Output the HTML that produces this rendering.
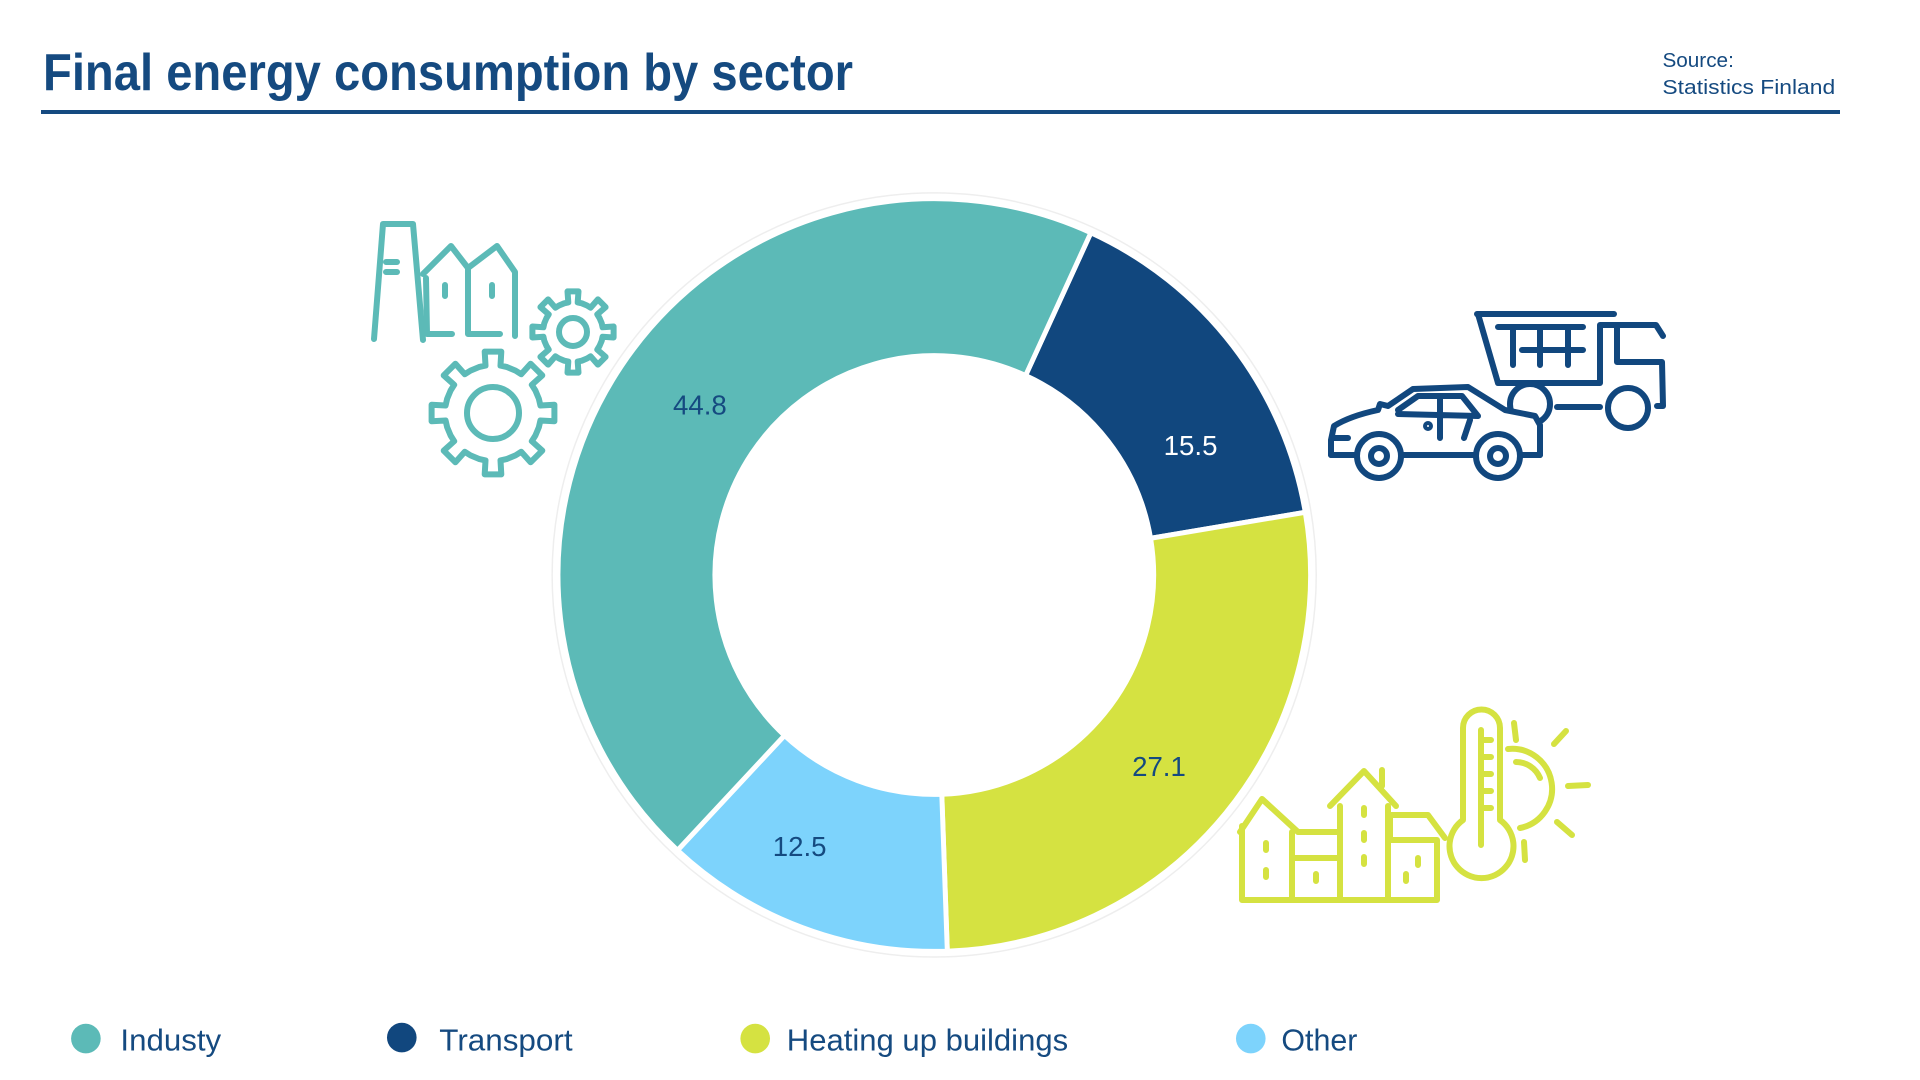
<!DOCTYPE html>
<html><head><meta charset="utf-8"><style>
html,body{margin:0;padding:0;background:#fff;}
svg{display:block;}
text{font-family:"Liberation Sans",Arial,sans-serif;}
</style></head><body>
<svg id="s" width="1920" height="1080" viewBox="0 0 1920 1080" xmlns="http://www.w3.org/2000/svg">
<rect width="1920" height="1080" fill="#fff"/>
<text x="43" y="90" font-size="52" font-weight="bold" fill="#154a80" textLength="810" lengthAdjust="spacingAndGlyphs">Final energy consumption by sector</text>
<rect x="41" y="110" width="1799" height="4" fill="#154a80"/>
<g transform="scale(0.9872)">
<text x="1684" y="68" font-size="21" fill="#154a80">Source:</text>
<text x="1684" y="95" font-size="21" fill="#154a80" textLength="175" lengthAdjust="spacingAndGlyphs">Statistics Finland</text>

<circle cx="946.3" cy="582.4" r="387" fill="none" stroke="#eeeeee" stroke-width="1.5"/>
<g stroke="#fff" stroke-width="5" stroke-linejoin="miter">
<path fill="#11477e" d="M1105.0,235.8 A381.3,381.3 0 0 1 1322.2,518.9 L1165.5,545.3 A222.3,222.3 0 0 0 1038.9,380.4 Z"/>
<path fill="#d5e241" d="M1322.2,518.9 A381.3,381.3 0 0 1 959.6,963.5 L954.0,804.6 A222.3,222.3 0 0 0 1165.5,545.3 Z"/>
<path fill="#7dd3fc" d="M959.6,963.5 A381.3,381.3 0 0 1 686.3,861.3 L794.7,745.0 A222.3,222.3 0 0 0 954.0,804.6 Z"/>
<path fill="#5cbab7" d="M686.3,861.3 A381.3,381.3 0 0 1 1105.0,235.8 L1038.9,380.4 A222.3,222.3 0 0 0 794.7,745.0 Z"/>
</g>
<g font-size="28" text-anchor="middle">
<text x="709" y="420" fill="#154a80">44.8</text>
<text x="1206" y="461" fill="#ffffff">15.5</text>
<text x="1174" y="786" fill="#154a80">27.1</text>
<text x="810" y="867" fill="#154a80">12.5</text>
</g>
<g font-size="31">
<circle cx="87" cy="1052" r="15" fill="#5cbab7"/><text x="122" y="1064" fill="#154a80" textLength="102" lengthAdjust="spacingAndGlyphs">Industy</text>
<circle cx="407" cy="1051" r="15" fill="#11477e"/><text x="445" y="1064" fill="#154a80" textLength="135" lengthAdjust="spacingAndGlyphs">Transport</text>
<circle cx="765" cy="1052" r="15" fill="#d5e241"/><text x="797" y="1064" fill="#154a80" textLength="285" lengthAdjust="spacingAndGlyphs">Heating up buildings</text>
<circle cx="1267" cy="1052" r="15" fill="#7dd3fc"/><text x="1298" y="1064" fill="#154a80" textLength="77" lengthAdjust="spacingAndGlyphs">Other</text>
</g>
</g>

<!-- industry icon -->
<g fill="none" stroke="#5cbab7" stroke-width="6" stroke-linecap="round" stroke-linejoin="round">
<path d="M374,339 L383,224 L413,224 L423,340"/>
<path d="M386,262 L397,262 M386,272 L397,272"/>
<path d="M423,274 L451,246 L468,268 L497,246 L515,272 L515,336"/>
<path d="M426,278 L427,334 L452,334 M468,268 L468,334 L500,334"/>
<path d="M445,285 L445,296 M492,285 L492,296"/>
<path id="g1"/><path id="g2"/>
<circle cx="573" cy="332" r="14"/>
<circle cx="493" cy="413" r="26"/>
</g>

<!-- transport icon -->
<g fill="none" stroke="#11477e" stroke-width="6" stroke-linecap="round" stroke-linejoin="round">
<path d="M1477,314 L1614,314"/>
<path d="M1478,314 L1498,383 L1600,383 L1600,325 L1656,325 L1663,336"/>
<path d="M1617,327 L1617,362 L1662,362 L1663,406 L1657,406"/>
<path d="M1557,407 L1600,407"/>
<path d="M1498,327 L1583,327 M1522,350 L1583,350 M1513,327 L1513,365 M1540,327 L1540,365 M1568,327 L1568,365"/>
<circle cx="1628" cy="408" r="20"/>
<circle cx="1530" cy="404" r="20"/>
<path fill="#fff" d="M1331,440 L1334,426 Q1350,416 1378,410 L1380,404 L1388,406 L1413,389 L1468,387 L1505,410 L1535,416 L1540,425 L1540,455 L1331,455 Z"/>
<path d="M1331,455 L1540,455 M1398,410 L1418,396 L1462,396 L1478,416 M1398,414 L1478,416 M1440,396 L1440,438 M1470,420 L1464,438 M1334,438 L1348,438"/>
<circle cx="1379" cy="456" r="22" fill="#fff"/><circle cx="1379" cy="456" r="8"/>
<circle cx="1498" cy="456" r="22" fill="#fff"/><circle cx="1498" cy="456" r="8"/>
<circle cx="1428" cy="426" r="2"/>
</g>

<!-- heating icon -->
<g fill="none" stroke="#d5e241" stroke-width="6" stroke-linecap="round" stroke-linejoin="round">
<path d="M1240,832 L1262,799 L1298,832 L1340,832 M1242,826 L1242,900 L1437,900 L1437,840 L1390,840 L1390,815 L1428,815 L1445,838"/>
<path d="M1292,832 L1292,900 M1292,858 L1340,858 M1330,806 L1364,771 L1396,806 M1340,806 L1340,900 M1388,806 L1388,900 M1382,770 L1382,786"/>
<path d="M1266,843 L1266,850 M1266,870 L1266,877 M1316,874 L1316,881 M1364,808 L1364,815 M1364,833 L1364,840 M1364,857 L1364,864 M1406,874 L1406,881 M1418,858 L1418,865"/>
<path d="M1463,820 L1463,728 A18,18 0 0 1 1500,728 L1500,820 A32,32 0 1 1 1463,820 Z"/>
<path d="M1481,730 L1481,845 M1481,740 L1491,740 M1481,757 L1491,757 M1481,774 L1491,774 M1481,791 L1491,791 M1481,808 L1491,808"/>
<path d="M1508,749 A40,40 0 0 1 1520,828 M1516,762 A26,26 0 0 1 1540,778"/>
<path d="M1514,723 L1516,740 M1554,744 L1566,731 M1568,786 L1588,785 M1557,822 L1572,835 M1524,842 L1525,860"/>
</g>
</svg>
<script>
function gear(cx,cy,ri,ro,n){
  var d="",step=2*Math.PI/n;
  for(var i=0;i<n;i++){
    var a=i*step;
    var pts=[[a-step*0.5+step*0.12,ri],[a-step*0.2,ri],[a-step*0.17,ro],[a+step*0.17,ro],[a+step*0.2,ri],[a+step*0.5-step*0.12,ri]];
    pts.forEach(function(p,j){
      var x=cx+p[1]*Math.sin(p[0]),y=cy-p[1]*Math.cos(p[0]);
      d+=(i==0&&j==0?"M":"L")+x.toFixed(1)+","+y.toFixed(1)+" ";
    });
  }
  return d+"Z";
}
document.getElementById("g1").setAttribute("d",gear(573,332,30,41,8));
document.getElementById("g2").setAttribute("d",gear(493,413,48,62,8));
</script>
</body></html>
